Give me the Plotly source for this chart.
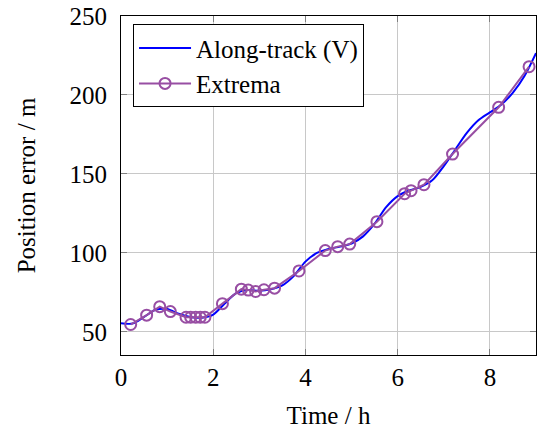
import plotly.graph_objects as go

# Along-track (V) curve
time_h = [0.0, 0.25, 0.5, 0.75, 1.0, 1.25, 1.5, 1.75, 2.0, 2.25, 2.5, 2.75, 3.0, 3.25,
          3.5, 3.75, 4.0, 4.25, 4.5, 4.75, 5.0, 5.25, 5.5, 5.75, 6.0, 6.25, 6.5, 6.75,
          7.0, 7.25, 7.5, 7.75, 8.0, 8.25, 8.5, 8.75, 9.0]
along_track = [55.5, 55.3, 59.5, 64.0, 64.5, 61.5, 59.5, 59.0, 61.0, 68.0, 74.5, 76.5, 76.0, 77.0,
               79.5, 85.5, 94.5, 100.0, 102.5, 104.0, 106.0, 110.5, 118.5, 129.0, 136.0, 139.5, 141.8, 146.0,
               155.0, 165.5, 176.0, 184.0, 189.0, 194.0, 201.5, 212.0, 226.5]

# Extrema points
ext_time = [0.21, 0.556, 0.84, 1.07, 1.41, 1.51, 1.62, 1.72, 1.82, 2.2, 2.61, 2.76, 2.92, 3.1,
            3.33, 3.86, 4.43, 4.70, 4.96, 5.55, 6.15, 6.29, 6.57, 7.19, 8.19, 8.85]
ext_val = [54.7, 60.6, 66.0, 62.9, 59.3, 59.3, 59.3, 59.3, 59.3, 67.9, 77.1, 76.5, 75.6, 76.7,
           77.7, 88.6, 101.5, 104.0, 105.6, 119.8, 137.5, 139.4, 143.2, 162.6, 192.2, 217.9]

x_ticks = [0, 2, 4, 6, 8]
y_ticks = [50, 100, 150, 200, 250]

FONT = "Liberation Serif"
FS = 25

fig = go.Figure()
fig.add_trace(go.Scatter(
    x=time_h, y=along_track, mode="lines", name="Along-track (V)",
    line=dict(color="#0000ff", width=2, shape="spline", smoothing=0.8),
))
fig.add_trace(go.Scatter(
    x=ext_time, y=ext_val, mode="lines+markers", name="Extrema",
    line=dict(color="#984ea3", width=2),
    marker=dict(symbol="circle-open", size=11, line=dict(width=2, color="#984ea3")),
))

axis_common = dict(
    showgrid=True, gridcolor="#c8c8c8", gridwidth=1,
    showline=True, linecolor="black", linewidth=1, mirror="ticks",
    ticks="inside", ticklen=6, tickcolor="#808080", tickwidth=1,
    zeroline=False, ticklabeloverflow="allow",
    tickfont=dict(family=FONT, size=FS, color="black"),
    title_font=dict(family=FONT, size=FS, color="black"),
)

fig.update_xaxes(range=[0, 9], tickvals=x_ticks, ticktext=[str(v) for v in x_ticks],
                 title_text="Time / h", title_standoff=16, ticklabelstandoff=0, **axis_common)
fig.update_yaxes(range=[35.4, 250], tickvals=y_ticks, ticktext=[str(v) for v in y_ticks],
                 title_text="Position error / m", title_standoff=26, ticklabelstandoff=8,
                 **axis_common)

fig.update_layout(
    width=540, height=432,
    margin=dict(l=121, r=3, t=12, b=77),
    plot_bgcolor="white", paper_bgcolor="white",
    font=dict(family=FONT, size=FS, color="black"),
    legend=dict(x=0.029, y=0.976, xanchor="left", yanchor="top",
                bgcolor="white", bordercolor="black", borderwidth=1,
                font=dict(family=FONT, size=FS, color="black"),
                tracegroupgap=0, itemwidth=52),
    showlegend=True,
)

fig.write_html("out.html", config={"displayModeBar": False},
               post_script="document.body.style.margin='0';")
